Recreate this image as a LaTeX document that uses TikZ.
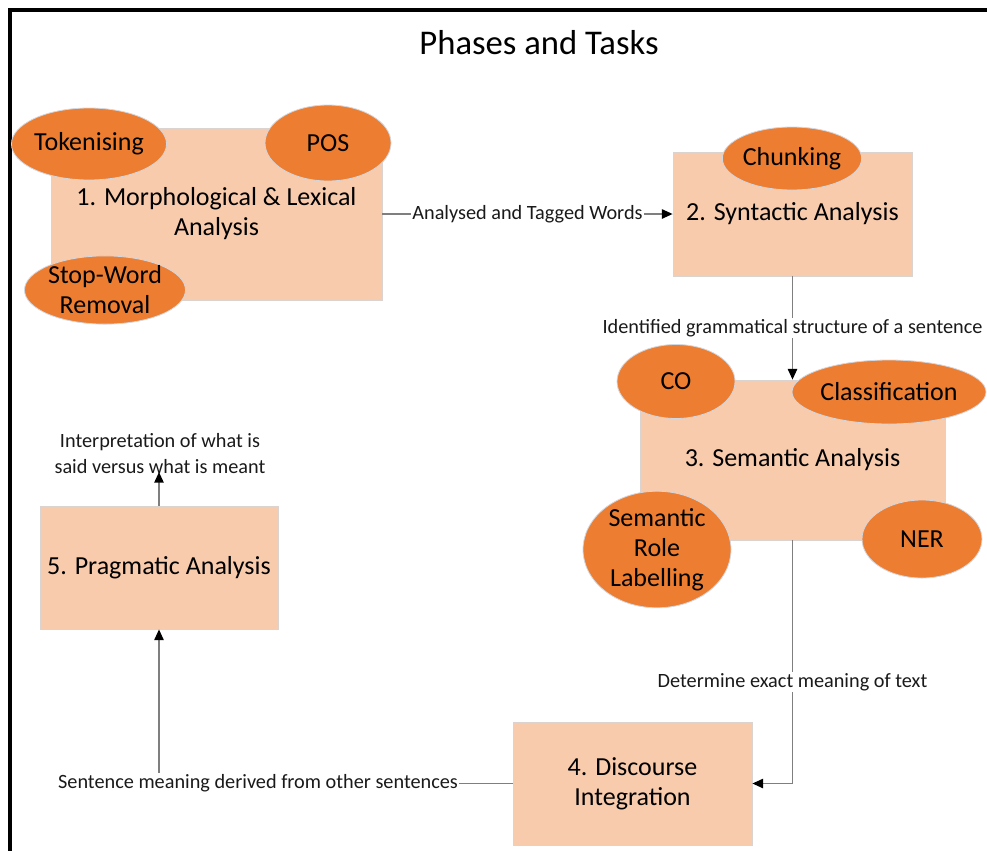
\documentclass[tikz,border=0pt]{standalone}
\usepackage{fontspec}
\setmainfont{Carlito}
\usetikzlibrary{shapes.geometric,arrows.meta}

\definecolor{boxfill}{HTML}{F8CBAD}
\definecolor{boxedge}{HTML}{DAD3CF}
\definecolor{ovalfill}{HTML}{ED7D31}
\definecolor{ovaledge}{HTML}{D2D8E2}
\definecolor{linkgray}{HTML}{7F7F7F}
\definecolor{ink}{HTML}{1A1A1A}

\tikzset{
  phase/.style={rectangle, fill=boxfill, draw=boxedge, line width=0.6pt,
    align=center, text=black, inner sep=2pt,
    font=\fontsize{19.5}{22.5}\selectfont},
  task/.style={ellipse, fill=ovalfill, draw=ovaledge, line width=0.6pt,
    align=center, text=black, inner sep=0pt,
    font=\fontsize{19.5}{22.5}\selectfont},
  link/.style={draw=linkgray, line width=1.1pt,
    -{Triangle[length=8pt,width=7pt,color=black]}},
  flowlabel/.style={fill=white, inner sep=1pt, text=ink, align=center,
    font=\fontsize{15.2}{19}\selectfont},
  freelabel/.style={inner sep=0pt, text=ink, align=center,
    font=\fontsize{15.2}{19}\selectfont},
}

\begin{document}
\begin{tikzpicture}[x=0.75pt, y=-0.75pt]
  \useasboundingbox (0,0) rectangle (987,850);
  \clip (0,0) rectangle (987,850);
  \fill[white] (0,0) rectangle (987,850);

  % outer frame
  \draw[line width=3pt] (9.5,870) -- (9.5,10) -- (1000,10);

  % title
  \node[font=\fontsize{26}{30}\selectfont, text=black] (title) at (539,43) {Phases and Tasks};

  % phases
  \node[phase, minimum width=331*0.75pt, minimum height=172*0.75pt] (p1) at (216.5,214)
    {1. Morphological \& Lexical\\Analysis};
  \node[phase, minimum width=239*0.75pt, minimum height=124*0.75pt] (p2) at (792.5,214)
    {2. Syntactic Analysis};
  \node[phase, minimum width=305*0.75pt, minimum height=160*0.75pt] (p3) at (792.5,460)
    {3. Semantic Analysis};
  \node[phase, minimum width=239*0.75pt, minimum height=123*0.75pt] (p4) at (632.5,783.5)
    {4. Discourse\\Integration};
  \node[phase, minimum width=238*0.75pt, minimum height=123*0.75pt] (p5) at (159,567.5)
    {5. Pragmatic Analysis};

  % tasks attached to the phases
  \node[task, minimum width=148*0.75pt, minimum height=72*0.75pt] (tok) at (89,144) {Tokenising};
  \node[task, minimum width=126*0.75pt, minimum height=76*0.75pt] (pos) at (328,143) {POS};
  \node[task, minimum width=150*0.75pt, minimum height=64*0.75pt] (stop) at (105,290) {Stop-Word\\Removal};
  \node[task, minimum width=132*0.75pt, minimum height=63*0.75pt] (chunk) at (792,158.5) {Chunking};
  \node[task, minimum width=118*0.75pt, minimum height=74*0.75pt] (co) at (676,381.5) {CO};
  \node[task, minimum width=172*0.75pt, minimum height=64*0.75pt] (class) at (889,392) {Classification};
  \node[task, minimum width=148*0.75pt, minimum height=96*0.75pt] (srl) at (657,549.5) {Semantic\\Role\\Labelling};
  \node[task, minimum width=120*0.75pt, minimum height=78*0.75pt] (ner) at (922,539) {NER};

  % flow between the phases
  \draw[link] (p1.east) -- node[flowlabel] {Analysed and Tagged Words} (p2.west);
  \draw[link] (p2.south) -- node[flowlabel] {Identified grammatical structure of a sentence} (p3.north);
  \draw[link] (p3.south) |- node[flowlabel, pos=0.292] {Determine exact meaning of text} (p4.east);
  \draw[link] (p4.west) -| node[flowlabel, pos=0.36] {Sentence meaning derived from other sentences} (p5.south);

  % outcome of the pragmatic phase
  \node[freelabel] (interp) at (160,453.5) {Interpretation of what is\\said versus what is meant};
  \coordinate (outtip) at (159,472);
  \draw[link] (p5.north) -- (outtip);
\end{tikzpicture}
\end{document}
